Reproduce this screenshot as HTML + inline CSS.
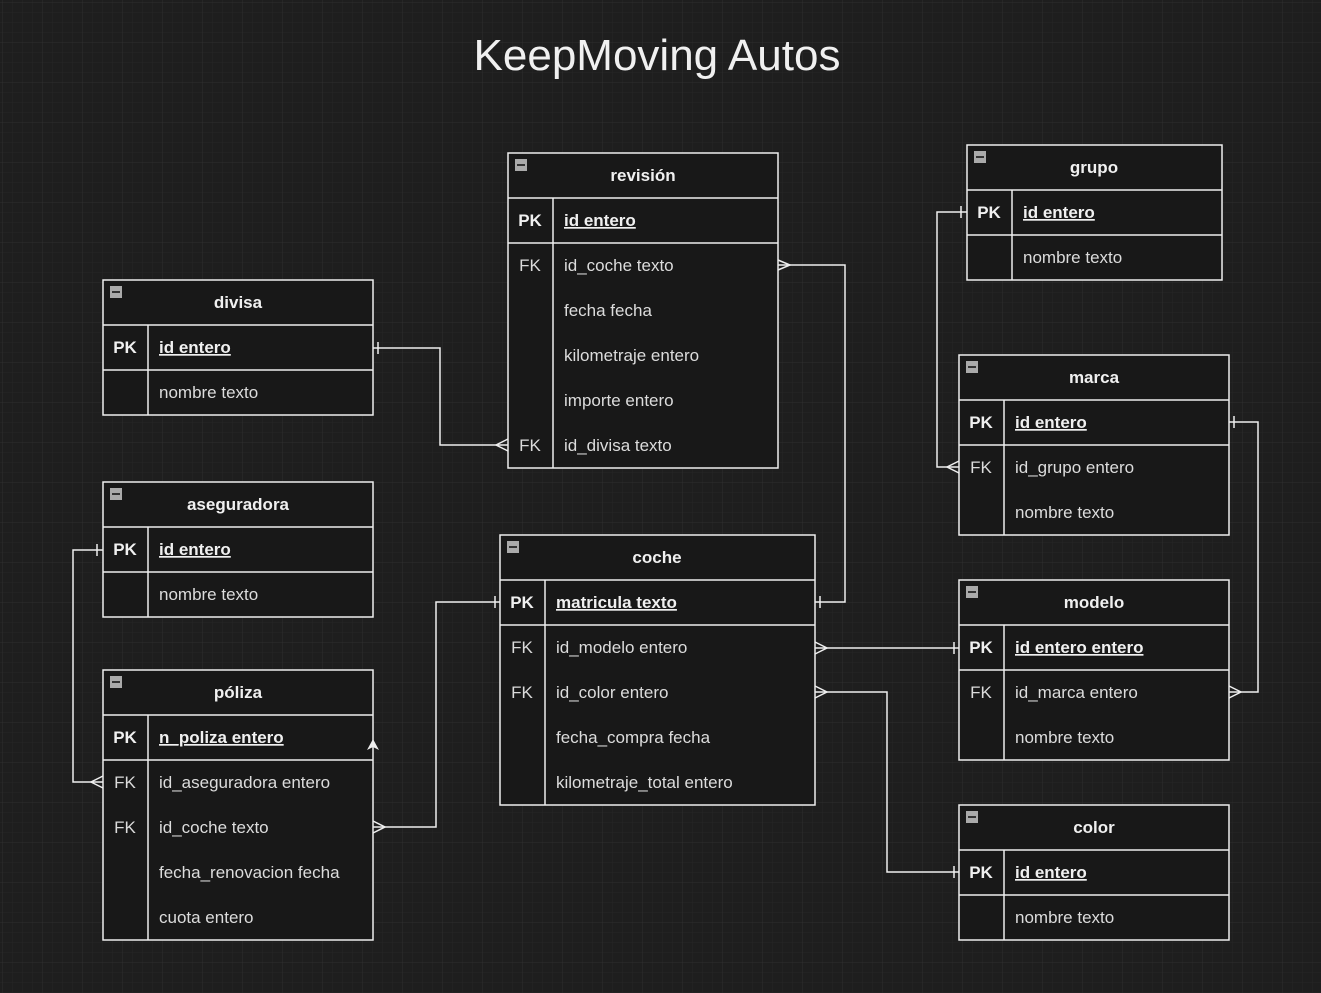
<!DOCTYPE html>
<html><head><meta charset="utf-8"><style>
html,body{margin:0;padding:0;background:#1e1e1e;}
svg{display:block;font-family:"Liberation Sans",Arial,sans-serif;}
</style></head><body>
<svg width="1321" height="993" viewBox="0 0 1321 993" xmlns="http://www.w3.org/2000/svg">
<defs>
<pattern id="g" width="10" height="10" patternUnits="userSpaceOnUse"><path d="M10 0V10H0" fill="none" stroke="#262626" stroke-width="1"/></pattern>
<pattern id="G" width="40" height="40" patternUnits="userSpaceOnUse" x="3" y="3"><rect width="40" height="40" fill="url(#g)"/><path d="M40 0V40H0" fill="none" stroke="#2f2f2f" stroke-width="1"/></pattern>
</defs>
<rect width="1321" height="993" fill="#1e1e1e"/>
<rect width="1321" height="993" fill="url(#G)"/>
<text x="657" y="70" text-anchor="middle" font-size="44" fill="#f0f0f0">KeepMoving Autos</text>

<g id="conns" fill="none" stroke="#eee" stroke-width="1.5">
<path d="M778 265H845V602H815"/><path d="M778 260L790 265L778 270"/><path d="M820 596V608"/>
<path d="M373 348H440V445H508"/><path d="M378 342V354"/><path d="M508 439L496 445L508 451"/>
<path d="M103 550H73V782H103"/><path d="M97 544V556"/><path d="M103 776L91 782L103 788"/>
<path d="M373 827H436V602H500"/><path d="M373 821L385 827L373 833"/><path d="M495 596V608"/>
<path d="M815 648H959"/><path d="M815 642L827 648L815 654"/><path d="M954 642V654"/>
<path d="M815 692H887V872H959"/><path d="M815 686L827 692L815 698"/><path d="M954 866V878"/>
<path d="M1229 422H1258V692H1229"/><path d="M1234 416V428"/><path d="M1229 686L1241 692L1229 698"/>
<path d="M967 212H937V467H959"/><path d="M961 206V218"/><path d="M959 461L947 467L959 473"/>
</g>

<g font-size="17" fill="#dcdcdc">
<!-- tables drawn via repeated structure -->
<!-- revisión -->
<g transform="translate(508,153)"><rect width="270" height="315" fill="#181818" stroke="#eee" stroke-width="1.5"/><rect x="7" y="6" width="12" height="12" fill="#aaa"/><rect x="9" y="11" width="8" height="2" fill="#333"/>
<text x="135" y="28" text-anchor="middle" font-weight="bold" fill="#f0f0f0">revisión</text>
<path d="M0 45H270M0 90H270M45 45V315" stroke="#eee" stroke-width="1.5"/>
<text x="22" y="73" text-anchor="middle" font-weight="bold" fill="#f0f0f0">PK</text><text x="56" y="73" font-weight="bold" text-decoration="underline" fill="#f0f0f0">id entero</text>
<text x="22" y="118" text-anchor="middle">FK</text><text x="56" y="118">id_coche texto</text>
<text x="56" y="163">fecha fecha</text><text x="56" y="208">kilometraje entero</text><text x="56" y="253">importe entero</text>
<text x="22" y="298" text-anchor="middle">FK</text><text x="56" y="298">id_divisa texto</text></g>
<!-- divisa -->
<g transform="translate(103,280)"><rect width="270" height="135" fill="#181818" stroke="#eee" stroke-width="1.5"/><rect x="7" y="6" width="12" height="12" fill="#aaa"/><rect x="9" y="11" width="8" height="2" fill="#333"/>
<text x="135" y="28" text-anchor="middle" font-weight="bold" fill="#f0f0f0">divisa</text>
<path d="M0 45H270M0 90H270M45 45V135" stroke="#eee" stroke-width="1.5"/>
<text x="22" y="73" text-anchor="middle" font-weight="bold" fill="#f0f0f0">PK</text><text x="56" y="73" font-weight="bold" text-decoration="underline" fill="#f0f0f0">id entero</text>
<text x="56" y="118">nombre texto</text></g>
<!-- aseguradora -->
<g transform="translate(103,482)"><rect width="270" height="135" fill="#181818" stroke="#eee" stroke-width="1.5"/><rect x="7" y="6" width="12" height="12" fill="#aaa"/><rect x="9" y="11" width="8" height="2" fill="#333"/>
<text x="135" y="28" text-anchor="middle" font-weight="bold" fill="#f0f0f0">aseguradora</text>
<path d="M0 45H270M0 90H270M45 45V135" stroke="#eee" stroke-width="1.5"/>
<text x="22" y="73" text-anchor="middle" font-weight="bold" fill="#f0f0f0">PK</text><text x="56" y="73" font-weight="bold" text-decoration="underline" fill="#f0f0f0">id entero</text>
<text x="56" y="118">nombre texto</text></g>
<!-- póliza -->
<g transform="translate(103,670)"><rect width="270" height="270" fill="#181818" stroke="#eee" stroke-width="1.5"/><rect x="7" y="6" width="12" height="12" fill="#aaa"/><rect x="9" y="11" width="8" height="2" fill="#333"/>
<text x="135" y="28" text-anchor="middle" font-weight="bold" fill="#f0f0f0">póliza</text>
<path d="M0 45H270M0 90H270M45 45V270" stroke="#eee" stroke-width="1.5"/>
<text x="22" y="73" text-anchor="middle" font-weight="bold" fill="#f0f0f0">PK</text><text x="56" y="73" font-weight="bold" text-decoration="underline" fill="#f0f0f0">n_poliza entero</text>
<text x="22" y="118" text-anchor="middle">FK</text><text x="56" y="118">id_aseguradora entero</text>
<text x="22" y="163" text-anchor="middle">FK</text><text x="56" y="163">id_coche texto</text>
<text x="56" y="208">fecha_renovacion fecha</text><text x="56" y="253">cuota entero</text>
<path d="M264 80L270 69L276 80L270 77Z" fill="#eee"/></g>
<!-- coche -->
<g transform="translate(500,535)"><rect width="315" height="270" fill="#181818" stroke="#eee" stroke-width="1.5"/><rect x="7" y="6" width="12" height="12" fill="#aaa"/><rect x="9" y="11" width="8" height="2" fill="#333"/>
<text x="157" y="28" text-anchor="middle" font-weight="bold" fill="#f0f0f0">coche</text>
<path d="M0 45H315M0 90H315M45 45V270" stroke="#eee" stroke-width="1.5"/>
<text x="22" y="73" text-anchor="middle" font-weight="bold" fill="#f0f0f0">PK</text><text x="56" y="73" font-weight="bold" text-decoration="underline" fill="#f0f0f0">matricula texto</text>
<text x="22" y="118" text-anchor="middle">FK</text><text x="56" y="118">id_modelo entero</text>
<text x="22" y="163" text-anchor="middle">FK</text><text x="56" y="163">id_color entero</text>
<text x="56" y="208">fecha_compra fecha</text><text x="56" y="253">kilometraje_total entero</text></g>
<!-- grupo -->
<g transform="translate(967,145)"><rect width="255" height="135" fill="#181818" stroke="#eee" stroke-width="1.5"/><rect x="7" y="6" width="12" height="12" fill="#aaa"/><rect x="9" y="11" width="8" height="2" fill="#333"/>
<text x="127" y="28" text-anchor="middle" font-weight="bold" fill="#f0f0f0">grupo</text>
<path d="M0 45H255M0 90H255M45 45V135" stroke="#eee" stroke-width="1.5"/>
<text x="22" y="73" text-anchor="middle" font-weight="bold" fill="#f0f0f0">PK</text><text x="56" y="73" font-weight="bold" text-decoration="underline" fill="#f0f0f0">id entero</text>
<text x="56" y="118">nombre texto</text></g>
<!-- marca -->
<g transform="translate(959,355)"><rect width="270" height="180" fill="#181818" stroke="#eee" stroke-width="1.5"/><rect x="7" y="6" width="12" height="12" fill="#aaa"/><rect x="9" y="11" width="8" height="2" fill="#333"/>
<text x="135" y="28" text-anchor="middle" font-weight="bold" fill="#f0f0f0">marca</text>
<path d="M0 45H270M0 90H270M45 45V180" stroke="#eee" stroke-width="1.5"/>
<text x="22" y="73" text-anchor="middle" font-weight="bold" fill="#f0f0f0">PK</text><text x="56" y="73" font-weight="bold" text-decoration="underline" fill="#f0f0f0">id entero</text>
<text x="22" y="118" text-anchor="middle">FK</text><text x="56" y="118">id_grupo entero</text>
<text x="56" y="163">nombre texto</text></g>
<!-- modelo -->
<g transform="translate(959,580)"><rect width="270" height="180" fill="#181818" stroke="#eee" stroke-width="1.5"/><rect x="7" y="6" width="12" height="12" fill="#aaa"/><rect x="9" y="11" width="8" height="2" fill="#333"/>
<text x="135" y="28" text-anchor="middle" font-weight="bold" fill="#f0f0f0">modelo</text>
<path d="M0 45H270M0 90H270M45 45V180" stroke="#eee" stroke-width="1.5"/>
<text x="22" y="73" text-anchor="middle" font-weight="bold" fill="#f0f0f0">PK</text><text x="56" y="73" font-weight="bold" text-decoration="underline" fill="#f0f0f0">id entero entero</text>
<text x="22" y="118" text-anchor="middle">FK</text><text x="56" y="118">id_marca entero</text>
<text x="56" y="163">nombre texto</text></g>
<!-- color -->
<g transform="translate(959,805)"><rect width="270" height="135" fill="#181818" stroke="#eee" stroke-width="1.5"/><rect x="7" y="6" width="12" height="12" fill="#aaa"/><rect x="9" y="11" width="8" height="2" fill="#333"/>
<text x="135" y="28" text-anchor="middle" font-weight="bold" fill="#f0f0f0">color</text>
<path d="M0 45H270M0 90H270M45 45V135" stroke="#eee" stroke-width="1.5"/>
<text x="22" y="73" text-anchor="middle" font-weight="bold" fill="#f0f0f0">PK</text><text x="56" y="73" font-weight="bold" text-decoration="underline" fill="#f0f0f0">id entero</text>
<text x="56" y="118">nombre texto</text></g>
</g>
</svg>
</body></html>
